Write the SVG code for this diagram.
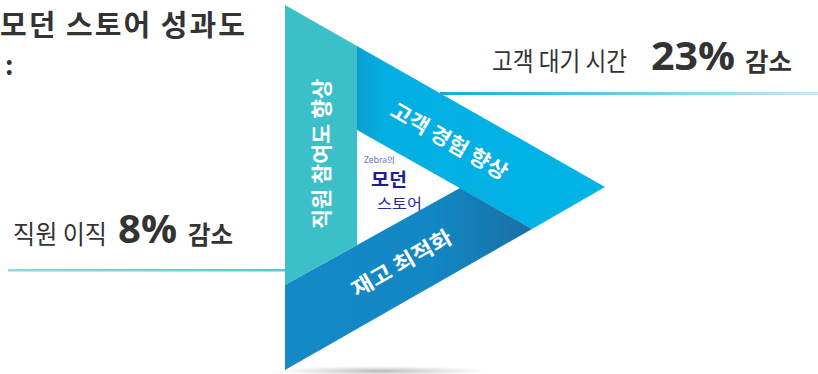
<svg xmlns="http://www.w3.org/2000/svg" width="818" height="374" viewBox="0 0 818 374">
<style>
.kr{font-family:"Noto Sans CJK KR","Noto Sans",sans-serif;fill:#333333}
.num{font-family:"Open Sans","Noto Sans CJK KR",sans-serif;font-weight:700;fill:#333333}
.band{font-family:"Noto Sans CJK KR",sans-serif;font-weight:700;fill:#ffffff;font-size:21px}
</style>
<defs>
<linearGradient id="gTop" x1="0" y1="0" x2="1" y2="0">
<stop offset="0" stop-color="#12ace0"/><stop offset="1" stop-color="#c4ebf7"/>
</linearGradient>
<linearGradient id="gLeft" x1="0" y1="0" x2="1" y2="0">
<stop offset="0" stop-color="#8fd8df"/><stop offset="1" stop-color="#5cc6cf"/>
</linearGradient>
<linearGradient id="gLight" gradientUnits="userSpaceOnUse" x1="357" y1="0" x2="605" y2="0">
<stop offset="0" stop-color="#0a9fd2"/><stop offset="0.12" stop-color="#03afe2"/><stop offset="1" stop-color="#00b4e6"/>
</linearGradient>
<linearGradient id="gDark" gradientUnits="userSpaceOnUse" x1="285" y1="0" x2="532" y2="0">
<stop offset="0" stop-color="#1389c5"/><stop offset="0.6" stop-color="#1287c3"/><stop offset="1" stop-color="#1b6fa6"/>
</linearGradient>
<radialGradient id="gShadow" cx="0.5" cy="0.5" r="0.5">
<stop offset="0" stop-color="#9a9a9a" stop-opacity="0.7"/><stop offset="1" stop-color="#bbbbbb" stop-opacity="0"/>
</radialGradient>
</defs>

<g id="connectors">
<rect x="440" y="92" width="378" height="3" fill="url(#gTop)"/>
<rect x="8" y="269" width="277" height="2.5" fill="url(#gLeft)"/>
</g>

<ellipse cx="380" cy="371" rx="110" ry="5" fill="url(#gShadow)"/>

<g id="band-teal">
<polygon points="285,5 357,46 357,245 285,285" fill="#3bbfc8"/>
<text class="band" transform="translate(320,154) rotate(-90)" text-anchor="middle" dominant-baseline="central" textLength="150" lengthAdjust="spacingAndGlyphs">직원 참여도 향상</text>
</g>
<g id="band-light">
<polygon points="357,46 605,187 532,229 357,130" fill="url(#gLight)"/>
<text class="band" transform="translate(450,140) rotate(30)" text-anchor="middle" dominant-baseline="central" textLength="131" lengthAdjust="spacingAndGlyphs">고객 경험 향상</text>
</g>
<g id="band-dark">
<polygon points="285,285 460,188 532,229 285,370" fill="url(#gDark)"/>
<text class="band" transform="translate(401,262) rotate(-30)" text-anchor="middle" dominant-baseline="central" textLength="112" lengthAdjust="spacingAndGlyphs">재고 최적화</text>
</g>

<g id="center-label">
<text x="364" y="162.5" font-family="'Noto Sans','Noto Sans CJK KR',sans-serif" font-size="8.5" fill="#6b6bc8">Zebra의</text>
<text x="371" y="186" font-family="'Noto Sans CJK KR',sans-serif" font-weight="700" font-size="18" fill="#1c1c9c" textLength="36" lengthAdjust="spacingAndGlyphs">모던</text>
<text x="377" y="209" font-family="'Noto Sans CJK KR',sans-serif" font-size="14.5" fill="#2b2ba2" textLength="45" lengthAdjust="spacingAndGlyphs">스토어</text>
</g>

<g id="title">
<text class="kr" x="0" y="36" font-size="29" font-weight="700" textLength="245" lengthAdjust="spacing">모던 스토어 성과도</text>
<text class="kr" x="5" y="75" font-size="26" font-weight="700">:</text>
</g>

<g id="stat-top">
<text class="kr" x="492" y="71" font-size="26" textLength="135" lengthAdjust="spacingAndGlyphs">고객 대기 시간</text>
<text class="num" x="651" y="70" font-size="39" textLength="84" lengthAdjust="spacingAndGlyphs">23%</text>
<text class="kr" x="745" y="71" font-size="25" font-weight="700" textLength="47" lengthAdjust="spacingAndGlyphs">감소</text>
</g>
<g id="stat-left">
<text class="kr" x="13" y="244" font-size="26" textLength="94" lengthAdjust="spacingAndGlyphs">직원 이직</text>
<text class="num" x="118" y="243" font-size="40" textLength="59" lengthAdjust="spacingAndGlyphs">8%</text>
<text class="kr" x="188" y="244" font-size="25" font-weight="700" textLength="45" lengthAdjust="spacingAndGlyphs">감소</text>
</g>
</svg>
